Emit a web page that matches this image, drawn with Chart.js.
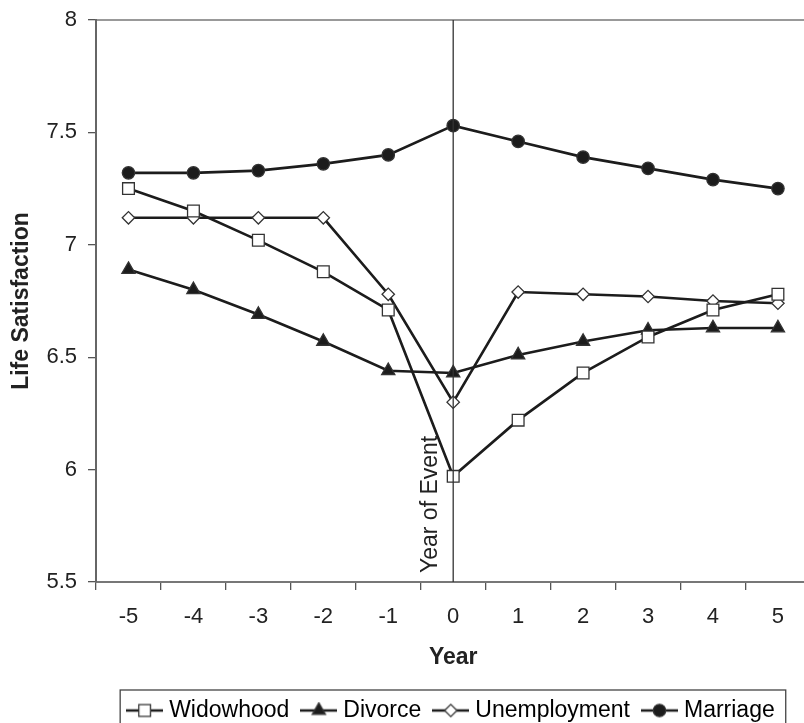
<!DOCTYPE html>
<html>
<head>
<meta charset="utf-8">
<script src="https://cdn.jsdelivr.net/npm/chart.js@4/dist/chart.umd.min.js"></script>
<style>
  html, body { margin: 0; padding: 0; background: #fff; overflow: hidden; width: 804px; height: 723px; }
  #wrap { position: relative; width: 804px; height: 723px; overflow: hidden; }
  #wrap canvas { position: absolute; left: 0; top: 0; display: block; }
</style>
</head>
<body>
<div id="wrap"><canvas id="myChart" width="820" height="740"></canvas></div>
<script>
const years = ['-5', '-4', '-3', '-2', '-1', '0', '1', '2', '3', '4', '5'];
const widowhood = [7.25, 7.15, 7.02, 6.88, 6.71, 5.97, 6.22, 6.43, 6.59, 6.71, 6.78];
const divorce = [6.89, 6.80, 6.69, 6.57, 6.44, 6.43, 6.51, 6.57, 6.62, 6.63, 6.63];
const unemployment = [7.12, 7.12, 7.12, 7.12, 6.78, 6.30, 6.79, 6.78, 6.77, 6.75, 6.74];
const marriage = [7.32, 7.32, 7.33, 7.36, 7.40, 7.53, 7.46, 7.39, 7.34, 7.29, 7.25];
const yTicks = [5.5, 6, 6.5, 7, 7.5, 8];
const eventYear = '0';

const ink = '#1c1c1c';
const font = '"Liberation Sans", Arial, sans-serif';
Chart.defaults.font.family = font;
Chart.defaults.color = '#222';

const ctx = document.getElementById('myChart').getContext('2d');

function series(label, data, style, radius, fill) {
  return {
    label: label,
    data: data,
    borderColor: ink,
    borderWidth: 2.6,
    pointStyle: style,
    pointRadius: radius,
    pointBackgroundColor: fill,
    pointBorderColor: '#333',
    pointBorderWidth: 1.3,
    tension: 0
  };
}

const datasets = [
  series('Widowhood', widowhood, 'rect', 8.3, '#fff'),
  series('Divorce', divorce, 'triangle', 7.6, ink),
  series('Unemployment', unemployment, 'rectRot', 6.2, '#fff'),
  series('Marriage', marriage, 'circle', 6.2, ink)
];

// small "line + marker" icons for the legend
function legendIcon(ds) {
  const c = document.createElement('canvas');
  c.width = 37; c.height = 18;
  const g = c.getContext('2d');
  g.strokeStyle = ink;
  g.lineWidth = 2.6;
  g.beginPath(); g.moveTo(0, 9); g.lineTo(37, 9); g.stroke();
  g.fillStyle = ds.pointBackgroundColor;
  g.strokeStyle = ds.pointBorderColor;
  g.lineWidth = ds.pointBorderWidth;
  Chart.helpers.drawPoint(g, { pointStyle: ds.pointStyle, radius: ds.pointRadius, rotation: 0, borderWidth: ds.pointBorderWidth }, 18.5, 9);
  return c;
}
const icons = datasets.map(legendIcon);

// vertical line + label at the year of the event
const eventLine = {
  id: 'eventLine',
  afterDatasetsDraw(chart) {
    const x = chart.scales.x.getPixelForValue(years.indexOf(eventYear));
    const a = chart.chartArea;
    const c = chart.ctx;
    c.save();
    c.strokeStyle = '#333';
    c.lineWidth = 1.3;
    c.beginPath(); c.moveTo(x, a.top); c.lineTo(x, a.bottom); c.stroke();
    c.translate(x - 23, a.bottom - 9);
    c.rotate(-Math.PI / 2);
    c.fillStyle = '#222';
    c.font = '23px ' + font;
    c.fillText('Year of Event', 0, 0);
    c.restore();
  }
};

// border around the legend
const legendBox = {
  id: 'legendBox',
  afterDraw(chart) {
    const lg = chart.legend;
    const hb = lg.legendHitBoxes;
    if (!hb || !hb.length) return;
    const last = hb[hb.length - 1];
    const left = hb[0].left - 11.5;
    const right = last.left + last.width + 11;
    const top = lg.top + 7.5;
    const c = chart.ctx;
    c.save();
    c.strokeStyle = '#444';
    c.lineWidth = 1.3;
    c.strokeRect(left, top, right - left, 45);
    c.restore();
  }
};

new Chart(ctx, {
  type: 'line',
  data: { labels: years, datasets: datasets },
  options: {
    responsive: false,
    animation: false,
    layout: { padding: { top: 20, left: 0, right: 0, bottom: 8 } },
    scales: {
      x: {
        offset: true,
        afterFit: s => { s.height = 100.5; s.paddingLeft = 0; s.paddingRight = 0; },
        grid: { offset: true, drawOnChartArea: false, tickLength: 8, color: '#555', lineWidth: 1.3 },
        border: { color: '#777', width: 2 },
        ticks: { padding: 14, font: { size: 22 }, color: '#222', maxRotation: 0 },
        title: { display: true, text: 'Year', font: { size: 23, weight: 'bold' }, padding: { top: 13, bottom: 11.5 }, color: '#222' }
      },
      x2: {
        type: 'category',
        labels: years,
        position: 'top',
        offset: true,
        afterFit: s => { s.height = 0; s.paddingLeft = 0; s.paddingRight = 0; },
        grid: { display: false, drawTicks: false },
        ticks: { display: false },
        border: { color: '#999', width: 2 }
      },
      y: {
        min: 5.5,
        max: 8,
        afterBuildTicks: axis => { axis.ticks = yTicks.map(v => ({ value: v })); },
        afterFit: s => { s.width = 96; s.paddingTop = 0; s.paddingBottom = 0; },
        grid: { drawOnChartArea: false, tickLength: 8, color: '#555', lineWidth: 1.3 },
        border: { color: '#666', width: 2 },
        ticks: { padding: 11, font: { size: 22 }, color: '#222', callback: v => String(v) },
        title: { display: true, text: 'Life Satisfaction', font: { size: 23, weight: 'bold' }, padding: { top: 8, bottom: 10 }, color: '#222' }
      }
    },
    plugins: {
      tooltip: { enabled: false },
      legend: {
        position: 'bottom',
        fullSize: false,
        labels: {
          usePointStyle: true,
          pointStyleWidth: 26,
          padding: 16.5,
          font: { size: 23 },
          color: '#222',
          generateLabels: chart => chart.data.datasets.map((ds, i) => ({
            text: ds.label,
            pointStyle: icons[i],
            datasetIndex: i,
            fillStyle: 'transparent',
            strokeStyle: 'transparent',
            lineWidth: 0,
            hidden: false
          }))
        }
      }
    }
  },
  plugins: [eventLine, legendBox]
});
</script>
</body>
</html>
